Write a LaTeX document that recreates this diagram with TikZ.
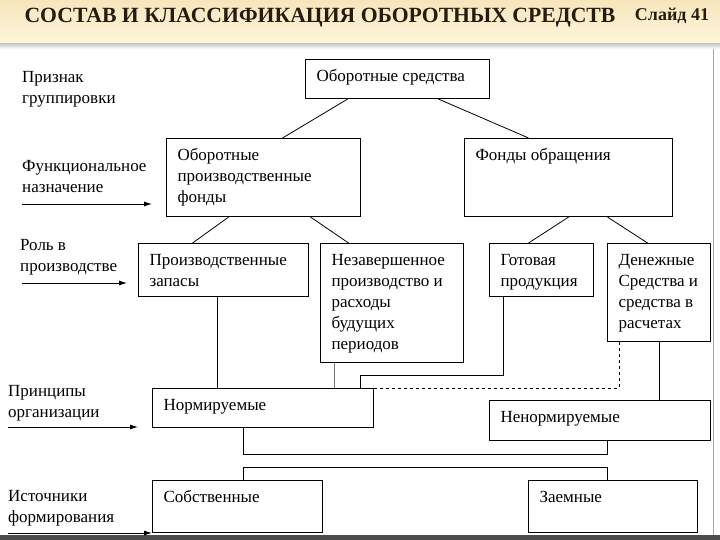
\documentclass[tikz,border=0pt]{standalone}
\usepackage{fontspec}
\setmainfont{Liberation Serif}
\usepackage{xcolor}
\usetikzlibrary{arrows.meta}
\definecolor{hdrtop}{RGB}{247,230,188}
\definecolor{hdrbot}{RGB}{253,245,222}
\definecolor{titlecol}{RGB}{38,28,14}
\newcommand{\boxtext}[3]{\parbox[c][#2][t]{#1}{\raggedright\leftskip=11pt\vspace*{7pt}\strut #3}}

\begin{document}
\begin{tikzpicture}[
    x=1pt, y=-1pt,
    block/.style={draw, line width=1.1pt, inner sep=0pt, anchor=north west,
                  font=\fontsize{17}{21}\selectfont},
    tag/.style={anchor=north west, inner sep=0pt, align=left,
                font=\fontsize{17}{21}\selectfont},
    link/.style={line width=0.8pt},
    arrow/.style={-{Latex[length=8pt, width=5pt]}, line width=0.8pt}
]
\useasboundingbox (0,0) rectangle (720,540);
% header band
\shade[top color=hdrtop, bottom color=hdrbot] (0,0) rectangle (720,44);
\shade[top color=black!20, bottom color=white] (0,44) rectangle (720,49);
\node[font=\fontsize{21.7}{25}\selectfont\bfseries, text=titlecol] (title) at (320,18)
    {СОСТАВ И КЛАССИФИКАЦИЯ ОБОРОТНЫХ СРЕДСТВ};
\node[font=\fontsize{18}{21}\selectfont\bfseries, text=titlecol] (slide) at (672,16) {Слайд 41};
\draw[black!35, line width=0.8pt] (713,49) -- (713,535);
\fill[black!70] (0,535) rectangle (720,540);

% boxes
\node[block] (os) at (305,59) {\boxtext{184pt}{39pt}{Оборотные средства}};
\node[block] (opf) at (166,138) {\boxtext{194pt}{78pt}{Оборотные\\производственные\\фонды}};
\node[block] (fo) at (464,138) {\boxtext{208pt}{78pt}{Фонды обращения}};
\node[block] (pz) at (138,243) {\boxtext{170pt}{53pt}{Производственные\\запасы}};
\node[block] (nzp) at (320,243) {\boxtext{143pt}{119pt}{Незавершенное\\производство и\\расходы\\будущих\\периодов}};
\node[block] (gp) at (489,243) {\boxtext{104pt}{53pt}{Готовая\\продукция}};
\node[block] (ds) at (607,243) {\boxtext{103pt}{98pt}{Денежные\\Средства и\\средства в\\расчетах}};
\node[block] (norm) at (152,388) {\boxtext{221pt}{39pt}{Нормируемые}};
\node[block] (nenorm) at (489,400) {\boxtext{221pt}{40pt}{Ненормируемые}};
\node[block] (sobst) at (152,480) {\boxtext{170pt}{52pt}{Собственные}};
\node[block] (zaem) at (528,480) {\boxtext{169pt}{52pt}{Заемные}};

% grouping labels
\node[tag] (prizn) at (22,71.5) {Признак\\группировки};
\node[tag] (funk) at (22,160.5) {Функциональное\\назначение};
\node[tag] (rol) at (20,239.5) {Роль в\\производстве};
\node[tag] (princ) at (8,385.5) {Принципы\\организации};
\node[tag] (istoch) at (8,490.5) {Источники\\формирования};
\coordinate (fa) at (22,204);
\coordinate (ra) at (22,283);
\coordinate (pa) at (8,427);
\coordinate (ia) at (8,533);
\draw[arrow, shorten >=14pt] (fa) -- (fa -| opf.west);
\draw[arrow, shorten >=11pt] (ra) -- (ra -| pz.west);
\draw[arrow, shorten >=14pt] (pa) -- (pa -| norm.west);
\draw[arrow] (ia) -- (ia -| sobst.west);

% tree links
\draw[link] ([xshift=-50pt]os.south) -- ([xshift=19pt]opf.north);
\draw[link] ([xshift=41pt]os.south) -- ([xshift=-40pt]fo.north);
\draw[link] ([xshift=-35pt]opf.south) -- ([xshift=-31pt]pz.north);
\draw[link] ([xshift=47pt]opf.south) -- ([xshift=-43.5pt]nzp.north);
\draw[link] (fo.south) -- ([xshift=-13pt]gp.north);
\draw[link] ([xshift=39pt]fo.south) -- ([xshift=-11.5pt]ds.north);

% to normed / non-normed
\draw[link] ([xshift=-6pt]pz.south) -- ([xshift=-6pt]pz.south |- norm.north);
\draw[link, black!55] ([xshift=-57.5pt]nzp.south) -- ([xshift=-57.5pt]nzp.south |- norm.north);
\draw[link] ([xshift=-38pt]gp.south) -- ++(0,78) -| ([xshift=97.5pt]norm.north);
\draw[link, dashed] ([xshift=-39.5pt]ds.south) |- (norm.north east);
\draw[link] (ds.south) -- (ds.south |- nenorm.north);

% sources
\draw[link] ([xshift=-19.5pt]norm.south) -- ++(0,26) -| ([xshift=7.5pt]nenorm.south);
\draw[link] ([xshift=6pt]sobst.north) -- ++(0,-13) -| ([xshift=-5.5pt]zaem.north);
\end{tikzpicture}
\end{document}
